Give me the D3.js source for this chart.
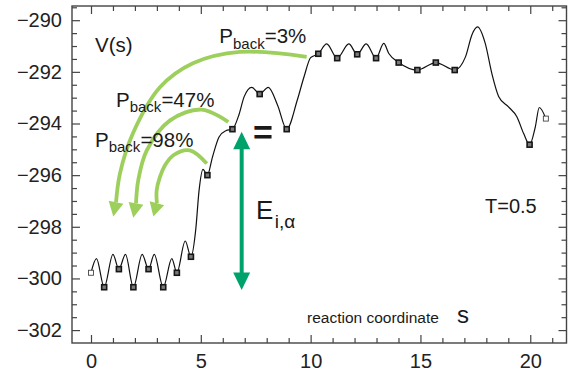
<!DOCTYPE html>
<html><head><meta charset="utf-8">
<script src="https://cdn.jsdelivr.net/npm/d3@7"></script>
<style>
html,body{margin:0;padding:0;background:#fff;}
svg{display:block;font-family:"Liberation Sans",Arial,Helvetica,sans-serif;}
</style></head><body>
<svg id="chart" width="572" height="376"></svg>
<script>
// Potential profile V(s) along the reaction coordinate s
const pathS = [0, 0.25, 0.6, 1.0, 1.27, 1.57, 1.93, 2.33, 2.62, 2.88, 3.29, 3.68, 3.91, 4.29, 4.55,
  4.77, 4.92, 5.1, 5.3, 5.53, 5.83, 6.14, 6.44, 6.74, 6.97, 7.32, 7.68, 8.07, 8.5, 8.91,
  9.39, 9.7, 10.0, 10.35, 10.73, 11.21, 11.74, 12.12, 12.53, 12.98, 13.33, 13.56, 14.01,
  14.86, 15.7, 16.56, 17.05, 17.35, 17.6, 17.95, 18.25, 18.56, 19.01, 19.39, 19.7, 19.97,
  20.23, 20.41, 20.71];
const pathV = [-299.78, -299.23, -300.34, -299.07, -299.64, -299.07, -300.34, -299.07, -299.64, -299.07,
  -300.34, -299.23, -299.78, -298.55, -299.16,
  -298.1, -296.6, -295.78, -296.0, -295.3, -294.52, -294.28, -294.22, -293.65, -292.97, -292.6,
  -292.86, -292.6, -293.3, -294.22,
  -293.1, -292.19, -291.45, -291.3, -290.92, -291.47, -290.92, -291.32, -290.92, -291.47,
  -290.9, -291.29, -291.64,
  -291.93, -291.64, -291.93, -291.42, -290.55, -290.26, -290.9, -292.06, -292.95, -293.36,
  -293.74, -294.39, -294.82, -294.13, -293.38, -293.81];

// Marked sites along the path; the two end sites are drawn open
const siteS = [0, 0.6, 1.27, 1.93, 2.62, 3.29, 3.91, 4.55, 5.3, 6.44, 7.68, 8.91,
  10.35, 11.21, 12.12, 12.98, 14.01, 14.86, 15.7, 16.56, 19.97, 20.71];
const siteV = [-299.78, -300.34, -299.64, -300.34, -299.64, -300.34, -299.78, -299.16, -296.0,
  -294.22, -292.86, -294.22, -291.3, -291.47, -291.32, -291.47, -291.64, -291.93, -291.64,
  -291.93, -294.82, -293.81];
const siteOpen = [true, false, false, false, false, false, false, false, false, false, false,
  false, false, false, false, false, false, false, false, false, false, true];

// Axis ticks
const xMajorTicks = [0, 5, 10, 15, 20];
const xMinorTicks = [1, 2, 3, 4, 6, 7, 8, 9, 11, 12, 13, 14, 16, 17, 18, 19, 21];
const yMajorTicks = [-302, -300, -298, -296, -294, -292, -290];
const yMinorTicks = [-301.5, -301, -300.5, -299.5, -299, -298.5, -297.5, -297, -296.5, -295.5,
  -295, -294.5, -293.5, -293, -292.5, -291.5, -291, -290.5, -289.5];

// Return-probability arrows (s, V), last point is the arrow tip
const backLabels = ["=3%", "=47%", "=98%"];
const back3S = [9.82, 6.78, 4.64, 3.14, 1.91, 1.32, 1.14, 1.015];
const back3V = [-291.42, -291.23, -291.67, -292.6, -294.38, -295.93, -297.05, -297.6];
const back47S = [6.25, 5.04, 3.6, 2.54, 2.15, 2.05, 1.925];
const back47V = [-293.94, -293.46, -293.88, -295.04, -296.2, -297.09, -297.65];
const back98S = [5.27, 4.5, 3.75, 3.37, 3.14, 2.99, 3.0, 2.84];
const back98V = [-295.55, -295.04, -295.23, -295.62, -296.07, -296.59, -297.09, -297.6];

// Barrier height arrow E_{i,alpha}
const barrierS = 6.86;
const barrierV = [-294.32, -300.45];

const L = 72, R = 566.5, T = 6, B = 343;
const svg = d3.select("#chart");

const x = d3.scaleLinear().domain([-0.865, 21.65]).range([L, R]);
const y = d3.scaleLinear().domain([-302.5, -289.45]).range([B, T]);

const axisColor = "#444";
function styleAxis(g) {
  g.select(".domain").remove();
  g.selectAll(".tick line").attr("stroke", axisColor).attr("stroke-width", 1.2);
  g.selectAll(".tick text").attr("fill", "#222").style("font-size", "20px")
    .style("font-family", '"Liberation Sans",Arial,sans-serif');
}

// bottom
svg.append("g").attr("transform", `translate(0,${B})`)
  .call(d3.axisBottom(x).tickValues(xMajorTicks).tickSize(-8).tickPadding(11).tickFormat(d3.format("d")))
  .call(styleAxis);
svg.append("g").attr("transform", `translate(0,${B})`)
  .call(d3.axisBottom(x).tickValues(xMinorTicks).tickSize(-5).tickFormat(""))
  .call(styleAxis);
// top
svg.append("g").attr("transform", `translate(0,${T})`)
  .call(d3.axisTop(x).tickValues(xMajorTicks).tickSize(-8).tickFormat(""))
  .call(styleAxis);
svg.append("g").attr("transform", `translate(0,${T})`)
  .call(d3.axisTop(x).tickValues(xMinorTicks).tickSize(-5).tickFormat(""))
  .call(styleAxis);
// left
svg.append("g").attr("transform", `translate(${L},0)`)
  .call(d3.axisLeft(y).tickValues(yMajorTicks).tickSize(-8).tickPadding(10).tickFormat(d3.format("d")))
  .call(styleAxis);
svg.append("g").attr("transform", `translate(${L},0)`)
  .call(d3.axisLeft(y).tickValues(yMinorTicks).tickSize(-5).tickFormat(""))
  .call(styleAxis);
// right
svg.append("g").attr("transform", `translate(${R},0)`)
  .call(d3.axisRight(y).tickValues(yMajorTicks).tickSize(-8).tickFormat(""))
  .call(styleAxis);
svg.append("g").attr("transform", `translate(${R},0)`)
  .call(d3.axisRight(y).tickValues(yMinorTicks).tickSize(-5).tickFormat(""))
  .call(styleAxis);

// frame
svg.append("rect").attr("x", L).attr("y", T).attr("width", R - L).attr("height", B - T)
  .attr("fill", "none").attr("stroke", axisColor).attr("stroke-width", 1.4);

// potential curve
const curve = d3.line().x(d => x(d[0])).y(d => y(d[1])).curve(d3.curveMonotoneX);
svg.append("path").datum(d3.zip(pathS, pathV))
  .attr("d", curve).attr("fill", "none").attr("stroke", "#111").attr("stroke-width", 1.2);

// site markers
const sq = 5;
svg.append("g").selectAll("rect").data(d3.zip(siteS, siteV, siteOpen)).join("rect")
  .attr("x", d => x(d[0]) - sq / 2).attr("y", d => y(d[1]) - sq / 2)
  .attr("width", sq).attr("height", sq)
  .attr("fill", d => d[2] ? "#fff" : "#7a7a7a")
  .attr("stroke", d => d[2] ? "#444" : "#161616")
  .attr("stroke-width", d => d[2] ? 0.9 : 1.6);

// return arrows
const lightGreen = "#9dcf5c";
const arrowLine = d3.line().x(d => x(d[0])).y(d => y(d[1])).curve(d3.curveCatmullRom.alpha(0.5));
function headPoints(base, tip, halfW) {
  const bx = x(base[0]), by = y(base[1]), tx = x(tip[0]), ty = y(tip[1]);
  const dx = tx - bx, dy = ty - by, len = Math.hypot(dx, dy);
  const nx = -dy / len, ny = dx / len;
  return [[tx, ty], [bx + nx * halfW, by + ny * halfW], [bx - nx * halfW, by - ny * halfW]];
}
[[back3S, back3V], [back47S, back47V], [back98S, back98V]].forEach(([S, V]) => {
  const pts = d3.zip(S, V);
  const body = pts.slice(0, pts.length - 1);
  svg.append("path").datum(body).attr("d", arrowLine)
    .attr("fill", "none").attr("stroke", lightGreen).attr("stroke-width", 3.8);
  svg.append("polygon")
    .attr("points", headPoints(pts[pts.length - 2], pts[pts.length - 1], 7.5).map(p => p.join(",")).join(" "))
    .attr("fill", lightGreen);
});

// barrier arrow
const darkGreen = "#00a26c";
const bx = x(barrierS), yTop = y(barrierV[0]), yBot = y(barrierV[1]);
const headLen = 17.5, headHalf = 8.5;
svg.append("line").attr("x1", bx).attr("x2", bx).attr("y1", yTop + headLen - 1).attr("y2", yBot - headLen + 1)
  .attr("stroke", darkGreen).attr("stroke-width", 4);
svg.append("polygon").attr("points", `${bx},${yTop} ${bx - headHalf},${yTop + headLen} ${bx + headHalf},${yTop + headLen}`)
  .attr("fill", darkGreen);
svg.append("polygon").attr("points", `${bx},${yBot} ${bx - headHalf},${yBot - headLen} ${bx + headHalf},${yBot - headLen}`)
  .attr("fill", darkGreen);

// text labels
const txt = "#1a1a1a";
svg.append("text").attr("x", 95).attr("y", 52).attr("fill", txt).style("font-size", "20.5px").text("V(s)");

function pBack(px, py, value) {
  const t = svg.append("text").attr("x", px).attr("y", py).attr("fill", txt).style("font-size", "20.5px");
  t.append("tspan").text("P");
  t.append("tspan").attr("dy", 5.5).style("font-size", "15px").text("back");
  t.append("tspan").attr("dy", -5.5).text(value);
}
pBack(219.3, 43, backLabels[0]);
pBack(116, 106.7, backLabels[1]);
pBack(95, 146.7, backLabels[2]);

svg.append("text").attr("x", 485).attr("y", 212.7).attr("fill", txt).style("font-size", "20px").text("T=0.5");
svg.append("text").attr("x", 307).attr("y", 323.3).attr("fill", txt).style("font-size", "15.5px").text("reaction coordinate");
svg.append("text").attr("x", 457).attr("y", 323).attr("fill", txt).style("font-size", "24px").text("s");

const e = svg.append("text").attr("x", 256).attr("y", 219).attr("fill", txt).style("font-size", "26px");
e.append("tspan").text("E");
e.append("tspan").attr("dx", 1.5).attr("dy", 9).style("font-size", "19px").text("i,α");

svg.append("text").attr("x", 253).attr("y", 144).attr("fill", txt)
  .style("font-size", "34px").style("font-weight", "bold").text("=");
</script>
</body></html>
